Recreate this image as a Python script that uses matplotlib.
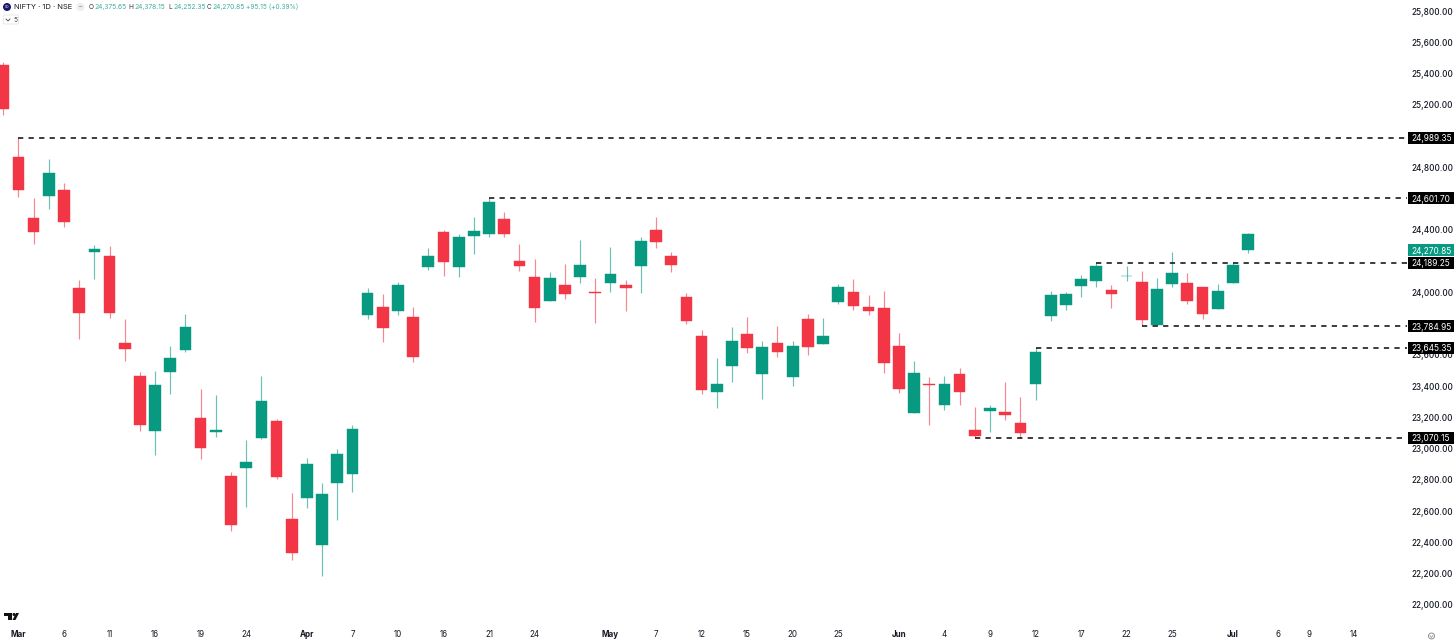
import matplotlib
matplotlib.use("Agg")
import matplotlib.pyplot as plt
import numpy as np
from matplotlib.patches import Rectangle, Circle, FancyBboxPatch, Polygon
from matplotlib.transforms import blended_transform_factory, IdentityTransform
from matplotlib.lines import Line2D

opens = [25457,24864,24478,24617,24655,24028,24259,24233,23676,23463,23115,23493,23631,23198,23107,22825,22878,23067,23175,22550,22683,22384,22782,22840,23853,23909,23879,23841,24161,24386,24164,24363,24372,24468,24201,24099,23943,24049,24099,24001,24062,24049,24169,24397,24233,23969,23721,23363,23531,23732,23480,23676,23457,23828,23672,23941,24004,23907,23900,23655,23230,23416,23282,23478,23122,23241,23235,23163,23412,23851,23921,24043,24071,24013,24103,24068,23791,24054,24058,24033,23896,24060,24375.65]
closes = [25175,24657,24388,24764,24450,23866,24278,23866,23638,23152,23408,23580,23779,23003,23120,22512,22913,23307,22821,22331,22900,22712,22968,23126,23998,23774,24049,23589,24233,24196,24354,24393,24576,24376,24171,23898,24092,23992,24175,23996,24118,24030,24327,24324,24175,23815,23377,23414,23687,23642,23651,23619,23659,23653,23719,24033,23911,23879,23548,23382,23484,23408,23416,23365,23081,23258,23216,23102,23621,23983,23988,24084,24167,23990,24107,23821,24022,24126,23943,23864,24007,24175,24270.85]
highs = [25474,24989.35,24602,24854,24702,24079,24303,24299,23830,23493,23499,23659,23864,23380,23345,22853,23056,23465,23192,22718,22939,22782,22998,23152,24026,23990,24068,23909,24282,24399,24374,24480,24601.7,24516,24310,24212,24129,24182,24335,24090,24289,24079,24356,24482,24257,23998,23759,23582,23779,23841,23691,23783,23689,23860,23836,24056,24088,23983,24007,23738,23559,23461,23465,23516,23267,23280,23427,23331,23645.35,24011,24001,24109,24189.25,24047,24167,24135,24090,24260,24122,24035,24054,24195,24378.15]
lows = [25137,24609,24308,24532,24417,23700,24084,23838,23559,23115,22958,23350,23621,22932,23073,22473,22629,23060,22806,22288,22621,22187,22544,22721,23830,23681,23857,23557,24143,24107,24097,24244,24356,24353,24139,23813,23943,23958,24062,23802,24004,23883,23998,24286,24129,23800,23348,23262,23429,23610,23318,23589,23399,23600,23672,23926,23889,23855,23486,23358,23230,23152,23248,23282,23070.15,23107,23186,23070.15,23312,23815,23889,23971,24037,23900,24075,23784.95,23784.95,24037,23928,23832,23896,24060,24252.35]
# The source colours the last candle by its change from the previous close, not by open/close.
up_by_prev_close = [82]

level_values = [24989.35, 24601.70, 24189.25, 23784.95, 23645.35, 23070.15]
level_starts = [1, 32, 72, 75, 68, 64]
last_price = 24270.85

y_ticks = [22000,22200,22400,22600,22800,23000,23200,23400,23600,23800,24000,24400,24800,25200,25400,25600,25800]
x_tick_pos = [1,4,7,10,13,16,20,23,26,29,32,35,40,43,46,49,52,55,59,62,65,68,71,74,77,81,84,86,89]
x_tick_labels = ["Mar","6","11","16","19","24","Apr","7","10","16","21","24","May","7","12","15","20","25","Jun","4","9","12","17","22","25","Jul","6","9","14"]
month_labels = {"Mar","Apr","May","Jun","Jul"}

GREEN = "#089981"
RED = "#F23645"
INK = "#131722"
W, H = 1456, 643
plt.rcParams['font.family'] = ['Inter', 'DejaVu Sans']

fig = plt.figure(figsize=(W/100, H/100), dpi=100, facecolor="white")
ax = fig.add_axes([0, 18/H, 1407/W, 625/H])
ax.set_xlim(-0.217, 92.47)
ax.set_ylim(21872, 25871)
for s in ax.spines.values():
    s.set_visible(False)

o = np.array(opens, float); c = np.array(closes, float)
hi = np.array(highs, float); lo = np.array(lows, float)
x = np.arange(len(o))
up = c >= o
up[up_by_prev_close] = True
colors = np.where(up, GREEN, RED)

ax.vlines(x, lo, hi, colors=colors, lw=0.85, alpha=0.6, zorder=2)
ax.bar(x, np.abs(c - o), bottom=np.minimum(o, c), width=0.77, color=colors, linewidth=0.3, edgecolor=colors, zorder=3)

for v, s in zip(level_values, level_starts):
    ax.plot([s, 92.47], [v, v], color="#111111", lw=1.15, linestyle=(0, (3.3, 3.3)), zorder=4, dash_capstyle="butt")

ax.yaxis.tick_right()
ax.set_yticks(y_ticks)
ax.set_yticklabels([f"{v:,.2f}" for v in y_ticks], fontsize=5.85, color=INK, fontweight="medium")
ax.tick_params(axis="y", length=0, pad=3.3)
ax.set_xticks(x_tick_pos)
ax.set_xticklabels(x_tick_labels, fontsize=5.8, color=INK)
for lab in ax.get_xticklabels():
    if lab.get_text() in month_labels:
        lab.set_fontweight("bold")
ax.tick_params(axis="x", length=0, pad=3.8)

tr = blended_transform_factory(IdentityTransform(), ax.transData)
badge_h = 12 * (25871 - 21872) / 625
def badge(v, color):
    ax.add_patch(Rectangle((1407.5, v - badge_h/2), 46.5, badge_h, transform=tr, facecolor=color, edgecolor="none", zorder=6, clip_on=False))
    ax.text(1411.8, v, f"{v:,.2f}", transform=tr, color="white", fontsize=6, va="center_baseline", ha="left", zorder=7, clip_on=False)
for v in level_values:
    badge(v, "black")
badge(last_price, GREEN)

def px(xp, yp):
    return xp / W, 1 - yp / H
def ftext(xp, yp, s, **kw):
    fig.text(*px(xp, yp), s, va="center", ha="left", **kw)
fig.add_artist(Circle((7, H-7), 4, transform=None, facecolor="#17176b", edgecolor="none"))
fig.text(*px(7, 7), "50", color="white", fontsize=2.6, ha="center", va="center")
ftext(13.5, 7, "NIFTY · 1D · NSE", fontsize=5.45, color=INK)
fig.add_artist(FancyBboxPatch((76.5, H-11), 8, 8, boxstyle="round,pad=0,rounding_size=4", transform=None, facecolor="#eeeeee", edgecolor="none"))
ftext(78.8, 7, "–", fontsize=4.5, color="#777777")
hdr = [(89, "O", 94, "24,375.65"), (128.5, "H", 134, "24,378.15"), (168, "L", 173, "24,252.35"), (207, "C", 212, "24,270.85")]
for xa, a, xb, b in hdr:
    ftext(xa, 7, a, fontsize=4.7, color="#333333")
    ftext(xb, 7, b, fontsize=4.8, color="#3fae9b")
ftext(246, 7, "+95.15 (+0.39%)", fontsize=4.7, color="#3fae9b")
fig.add_artist(FancyBboxPatch((3.5, H-24), 15, 9, boxstyle="round,pad=0,rounding_size=1.5", transform=None, facecolor="white", edgecolor="#e4e4e4", linewidth=0.6))
fig.add_artist(Line2D([6, 8, 10], [H-19, H-21, H-19], transform=None, color="#444444", lw=0.6))
ftext(13, 19.5, "5", fontsize=4.7, color="#444444")

fig.add_artist(Polygon([(4, H-613), (12, H-613), (12, H-620), (8, H-620), (8, H-616), (4, H-616)], closed=True, transform=None, facecolor="#111111", edgecolor="none"))
fig.add_artist(Circle((14, H-614.5), 1.5, transform=None, facecolor="#111111", edgecolor="none"))
fig.add_artist(Polygon([(16, H-613), (19, H-613), (15.5, H-620), (12.5, H-620)], closed=True, transform=None, facecolor="#111111", edgecolor="none"))

fig.add_artist(Circle((1431.5, H-636), 3, transform=None, facecolor="none", edgecolor="#666666", linewidth=0.5))
fig.add_artist(Line2D([1430, 1431.5, 1433], [H-635.5, H-637.5, H-635.5], transform=None, color="#666666", lw=0.4))

fig.savefig("out.png", dpi=100, facecolor="white")
